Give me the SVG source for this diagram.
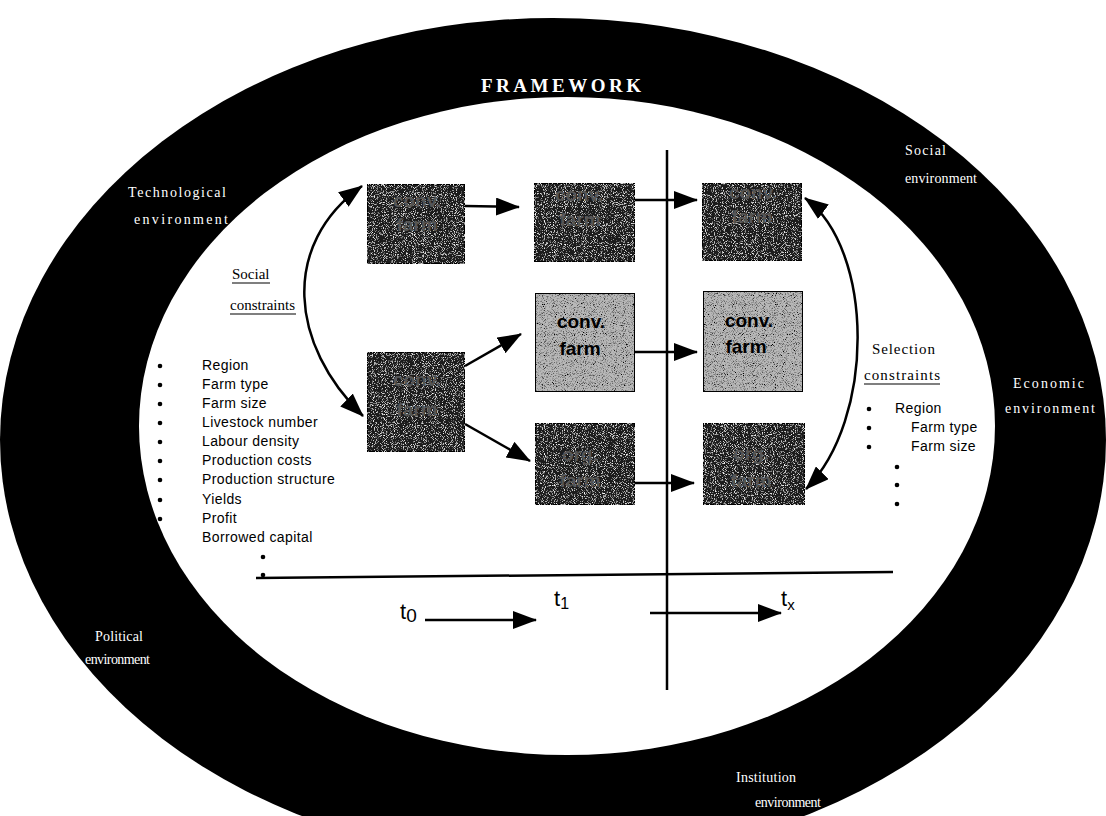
<svg xmlns="http://www.w3.org/2000/svg" width="1106" height="816" viewBox="0 0 1106 816">
<style>
.ring{font-family:"Liberation Serif","Times New Roman",serif;font-size:14px;fill:#fff}
.ser{font-family:"Liberation Serif","Times New Roman",serif;font-size:15px;fill:#000}
.lst{font-family:"Liberation Sans",Arial,sans-serif;font-size:14px;letter-spacing:0.4px;fill:#000}
.bx{font-family:"Liberation Sans",Arial,sans-serif;font-size:19px;font-weight:bold;text-anchor:middle}
.dk{fill:#1a1a1a;stroke:#000;stroke-width:2}
.lt{fill:#b8b8b8;stroke:#000;stroke-width:2}
.dkt{fill:#555}
.ltt{fill:#000}
.ln{stroke:#000;stroke-width:2.5;fill:none}
.tl{font-family:"Liberation Sans",Arial,sans-serif;font-size:22px;fill:#000}
</style>
<defs>
<marker id="ah" markerUnits="userSpaceOnUse" markerWidth="24" markerHeight="18" refX="23" refY="9" orient="auto-start-reverse" viewBox="0 0 24 18">
<path d="M0,0 L24,9 L0,18 z" fill="#000"/>
</marker>
<filter id="spk" x="0" y="0" width="1" height="1">
<feTurbulence type="fractalNoise" baseFrequency="1.1" numOctaves="1" seed="4" result="n"/>
<feColorMatrix in="n" type="matrix" values="0 0 0 0 1 0 0 0 0 1 0 0 0 0 1 4 0 0 0 -2.15" result="w"/>
<feComposite in="w" in2="SourceGraphic" operator="in" result="w2"/>
<feMerge><feMergeNode in="SourceGraphic"/><feMergeNode in="w2"/></feMerge>
</filter>
<filter id="spkd" x="0" y="0" width="1" height="1">
<feTurbulence type="fractalNoise" baseFrequency="1.1" numOctaves="1" seed="7" result="n"/>
<feColorMatrix in="n" type="matrix" values="0 0 0 0 0 0 0 0 0 0 0 0 0 0 0 4 0 0 0 -1.95" result="w"/>
<feComposite in="w" in2="SourceGraphic" operator="in" result="w2"/>
<feMerge><feMergeNode in="SourceGraphic"/><feMergeNode in="w2"/></feMerge>
</filter>
</defs>
<rect width="1106" height="816" fill="#fff"/>
<g id="framework">
<ellipse cx="553" cy="440" rx="553" ry="422" fill="#000"/>
<ellipse cx="567" cy="426" rx="428" ry="329" fill="#fff"/>
<text x="481" y="92" class="ring" style="font-size:19px;font-weight:bold" textLength="160" lengthAdjust="spacing">FRAMEWORK</text>
</g>
<g id="env-social"><text x="905" y="155" class="ring" textLength="41" lengthAdjust="spacing">Social</text><text x="905" y="183" class="ring" textLength="72" lengthAdjust="spacing">environment</text></g>
<g id="env-tech"><text x="128" y="197" class="ring" textLength="98" lengthAdjust="spacing">Technological</text><text x="134" y="224" class="ring" textLength="94" lengthAdjust="spacing">environment</text></g>
<g id="env-econ"><text x="1013" y="388" class="ring" textLength="71" lengthAdjust="spacing">Economic</text><text x="1005" y="413" class="ring" textLength="90" lengthAdjust="spacing">environment</text></g>
<g id="env-pol"><text x="95" y="641" class="ring" textLength="48" lengthAdjust="spacing">Political</text><text x="85" y="664" class="ring" textLength="65" lengthAdjust="spacing">environment</text></g>
<g id="env-inst"><text x="736" y="782" class="ring" textLength="60" lengthAdjust="spacing">Institution</text><text x="755" y="807" class="ring" textLength="66" lengthAdjust="spacing">environment</text></g>

<g id="social-constraints">
<text x="232" y="279" class="ser">Social</text><line x1="232" y1="283" x2="270" y2="283" stroke="#000" stroke-width="1.2"/>
<text x="230" y="310" class="ser">constraints</text><line x1="230" y1="314" x2="296" y2="314" stroke="#000" stroke-width="1.2"/>
<g fill="#000">
<circle cx="160" cy="366" r="2.3"/><circle cx="160" cy="385" r="2.3"/><circle cx="160" cy="404" r="2.3"/><circle cx="160" cy="423" r="2.3"/><circle cx="160" cy="442" r="2.3"/><circle cx="160" cy="461" r="2.3"/><circle cx="160" cy="480" r="2.3"/><circle cx="160" cy="500" r="2.3"/><circle cx="160" cy="519" r="2.3"/><circle cx="160" cy="538" r="2.3"/>
<circle cx="263" cy="557" r="2.3"/><circle cx="263" cy="575" r="2.3"/>
</g>
<text x="202" y="370" class="lst">Region</text>
<text x="202" y="389" class="lst">Farm type</text>
<text x="202" y="408" class="lst">Farm size</text>
<text x="202" y="427" class="lst">Livestock number</text>
<text x="202" y="446" class="lst">Labour density</text>
<text x="202" y="465" class="lst">Production costs</text>
<text x="202" y="484" class="lst">Production structure</text>
<text x="202" y="504" class="lst">Yields</text>
<text x="202" y="523" class="lst">Profit</text>
<text x="202" y="542" class="lst">Borrowed capital</text>
</g>

<g id="selection-constraints">
<text x="872" y="354" class="ser" textLength="63" lengthAdjust="spacing">Selection</text>
<text x="864" y="380" class="ser" textLength="76" lengthAdjust="spacing">constraints</text><line x1="864" y1="384" x2="940" y2="384" stroke="#000" stroke-width="1.2"/>
<g fill="#000"><circle cx="869" cy="409" r="2.3"/><circle cx="869" cy="428" r="2.3"/><circle cx="869" cy="447" r="2.3"/><circle cx="897" cy="467" r="2.3"/><circle cx="897" cy="485" r="2.3"/><circle cx="897" cy="504" r="2.3"/></g>
<text x="895" y="413" class="lst">Region</text>
<text x="911" y="432" class="lst">Farm type</text>
<text x="911" y="451" class="lst">Farm size</text>
</g>

<g id="box-a"><rect x="367" y="184" width="98" height="80" class="dk" filter="url(#spk)"/><text x="417" y="207" class="bx dkt">conv.</text><text x="417" y="231" class="bx dkt">farm</text></g>
<g id="box-b"><rect x="534" y="183" width="101" height="79" class="dk" filter="url(#spk)"/><text x="579" y="201" class="bx dkt">conv.</text><text x="580" y="226" class="bx dkt">farm</text></g>
<g id="box-c"><rect x="702" y="183" width="100" height="78" class="dk" filter="url(#spk)"/><text x="753" y="199" class="bx dkt">conv.</text><text x="752" y="223" class="bx dkt">farm</text></g>
<g id="box-d"><rect x="367" y="352" width="98" height="100" class="dk" filter="url(#spk)"/><text x="417" y="386" class="bx dkt">conv.</text><text x="417" y="416" class="bx dkt">farm</text></g>
<g id="box-e"><rect x="535" y="293" width="100" height="99" class="lt" filter="url(#spkd)"/><text x="581" y="328" class="bx ltt">conv.</text><text x="580" y="355" class="bx ltt">farm</text></g>
<g id="box-f"><rect x="703" y="291" width="100" height="101" class="lt" filter="url(#spkd)"/><text x="749" y="327" class="bx ltt">conv.</text><text x="746" y="353" class="bx ltt">farm</text></g>
<g id="box-g"><rect x="535" y="423" width="100" height="82" class="dk" filter="url(#spk)"/><text x="580" y="461" class="bx dkt">org.</text><text x="580" y="487" class="bx dkt">farm</text></g>
<g id="box-h"><rect x="703" y="423" width="102" height="82" class="dk" filter="url(#spk)"/><text x="751" y="460" class="bx dkt">org.</text><text x="751" y="487" class="bx dkt">farm</text></g>

<g id="connectors">
<line x1="667" y1="150" x2="667" y2="690" class="ln"/>
<line x1="256" y1="578" x2="893" y2="572" class="ln" stroke-width="2"/>
<line x1="465" y1="206" x2="519" y2="207" class="ln" marker-end="url(#ah)"/>
<line x1="635" y1="200" x2="697" y2="200" class="ln" marker-end="url(#ah)"/>
<line x1="465" y1="366" x2="521" y2="334" class="ln" marker-end="url(#ah)"/>
<line x1="465" y1="424" x2="530" y2="461" class="ln" marker-end="url(#ah)"/>
<line x1="635" y1="352" x2="697" y2="352" class="ln" marker-end="url(#ah)"/>
<line x1="635" y1="483" x2="694" y2="483" class="ln" marker-end="url(#ah)"/>
<path d="M362,186 C280,245 290,345 363,416" class="ln" stroke-width="2" marker-start="url(#ah)" marker-end="url(#ah)"/>
<path d="M805,198 C875,250 875,420 806,489" class="ln" stroke-width="2" marker-start="url(#ah)" marker-end="url(#ah)"/>
<line x1="425" y1="620" x2="536" y2="620" class="ln" stroke-width="2" marker-end="url(#ah)"/>
<line x1="650" y1="613" x2="781" y2="613" class="ln" stroke-width="2" marker-end="url(#ah)"/>
</g>
<g id="time-labels">
<text x="400" y="619" class="tl">t<tspan dy="3" font-size="19">0</tspan></text>
<text x="554" y="606" class="tl">t<tspan dy="3" font-size="16">1</tspan></text>
<text x="781" y="606" class="tl">t<tspan dy="4" font-size="15">x</tspan></text>
</g>
</svg>
